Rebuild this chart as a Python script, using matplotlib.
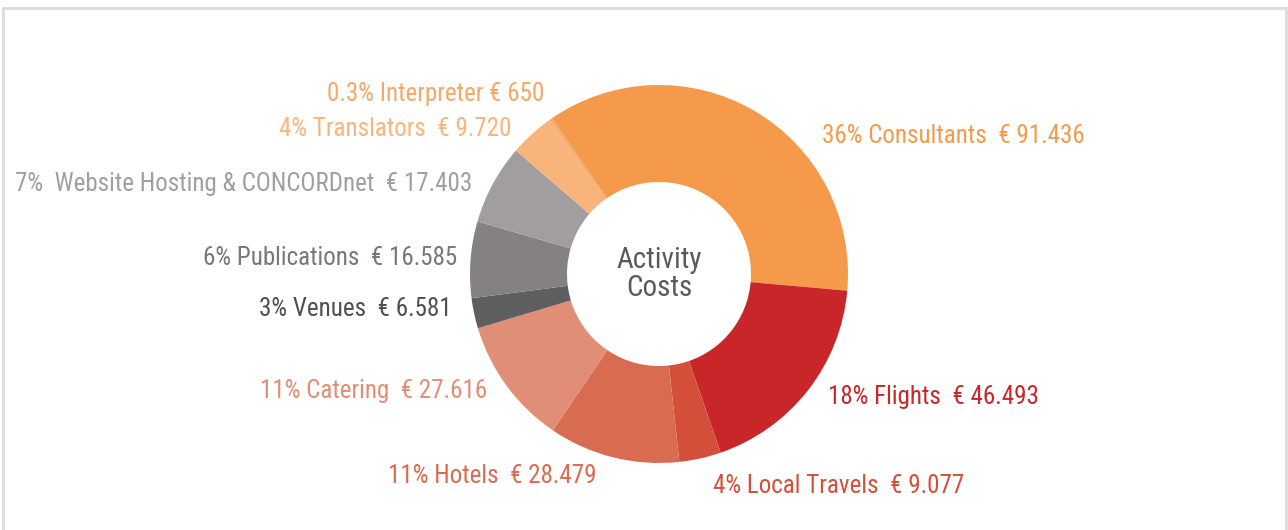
import matplotlib.pyplot as plt
from matplotlib import font_manager
from matplotlib.patches import Rectangle

# data
categories = ['Consultants', 'Flights', 'Local Travels', 'Hotels', 'Catering',
              'Venues', 'Publications', 'Website Hosting & CONCORDnet',
              'Translators', 'Interpreter']
amounts = [91436, 46493, 9077, 28479, 27616, 6581, 16585, 17403, 9720, 650]
pct_labels = ['36%', '18%', '4%', '11%', '11%', '3%', '6%', '7% ', '4%', '0.3%']

colors = ['#F59A4A', '#C9262A', '#D44F3A', '#D96B50', '#E08E76',
          '#5F5E60', '#858183', '#A29E9F', '#F9B47C', '#F6A868']
text_colors = ['#F59A4A', '#C9262A', '#D44F3A', '#D96B50', '#E08E76',
               '#4F4E50', '#7A7678', '#A29E9F', '#F9B47C', '#F6A868']

# label anchor (x, y in pixels from top-left) and alignment
label_pos = [(822, 136, 'left'), (828, 397, 'left'), (713, 486, 'left'),
             (597, 476, 'right'), (487, 391, 'right'), (452, 309, 'right'),
             (457, 258, 'right'), (472, 184, 'right'), (512, 129, 'right'),
             (544, 94, 'right')]

W, H = 1288, 530

# pick a condensed sans if one is around
installed = {f.name for f in font_manager.fontManager.ttflist}
FONT = [f for f in ['Roboto Condensed', 'Archivo Narrow', 'IBM Plex Sans Condensed',
                    'Liberation Sans Narrow', 'Liberation Sans'] if f in installed]
FONT.append('DejaVu Sans')

fig = plt.figure(figsize=(W / 100, H / 100), dpi=100)
ax = fig.add_axes([0, 0, 1, 1])

# light frame
ax.add_patch(Rectangle((3, -10), W - 5, H - 8 + 10, fill=False,
                       edgecolor='#DCDCDC', linewidth=2))

cx, cy, r_out, r_in = 659, H - 274, 189, 92
ax.pie(amounts, colors=colors, startangle=124.5, counterclock=False,
       center=(cx, cy), radius=r_out, frame=True,
       wedgeprops=dict(width=r_out - r_in, edgecolor='none'))
ax.set_xlim(0, W)
ax.set_ylim(0, H)
ax.set_aspect('equal')
ax.axis('off')

for name, amt, pct, col, (x, y, ha) in zip(categories, amounts, pct_labels,
                                           text_colors, label_pos):
    gap = ' ' if name == 'Interpreter' else '  '
    txt = f"{pct} {name}{gap}€ {amt:,}".replace(',', '.')
    ax.text(x, H - y, txt, ha=ha, va='center', color=col,
            fontsize=18, family=FONT)

ax.text(cx, cy, 'Activity\nCosts', ha='center', va='center',
        color='#5A5A5A', fontsize=21, family=FONT, linespacing=1.0)

fig.savefig('out.png', dpi=100)
